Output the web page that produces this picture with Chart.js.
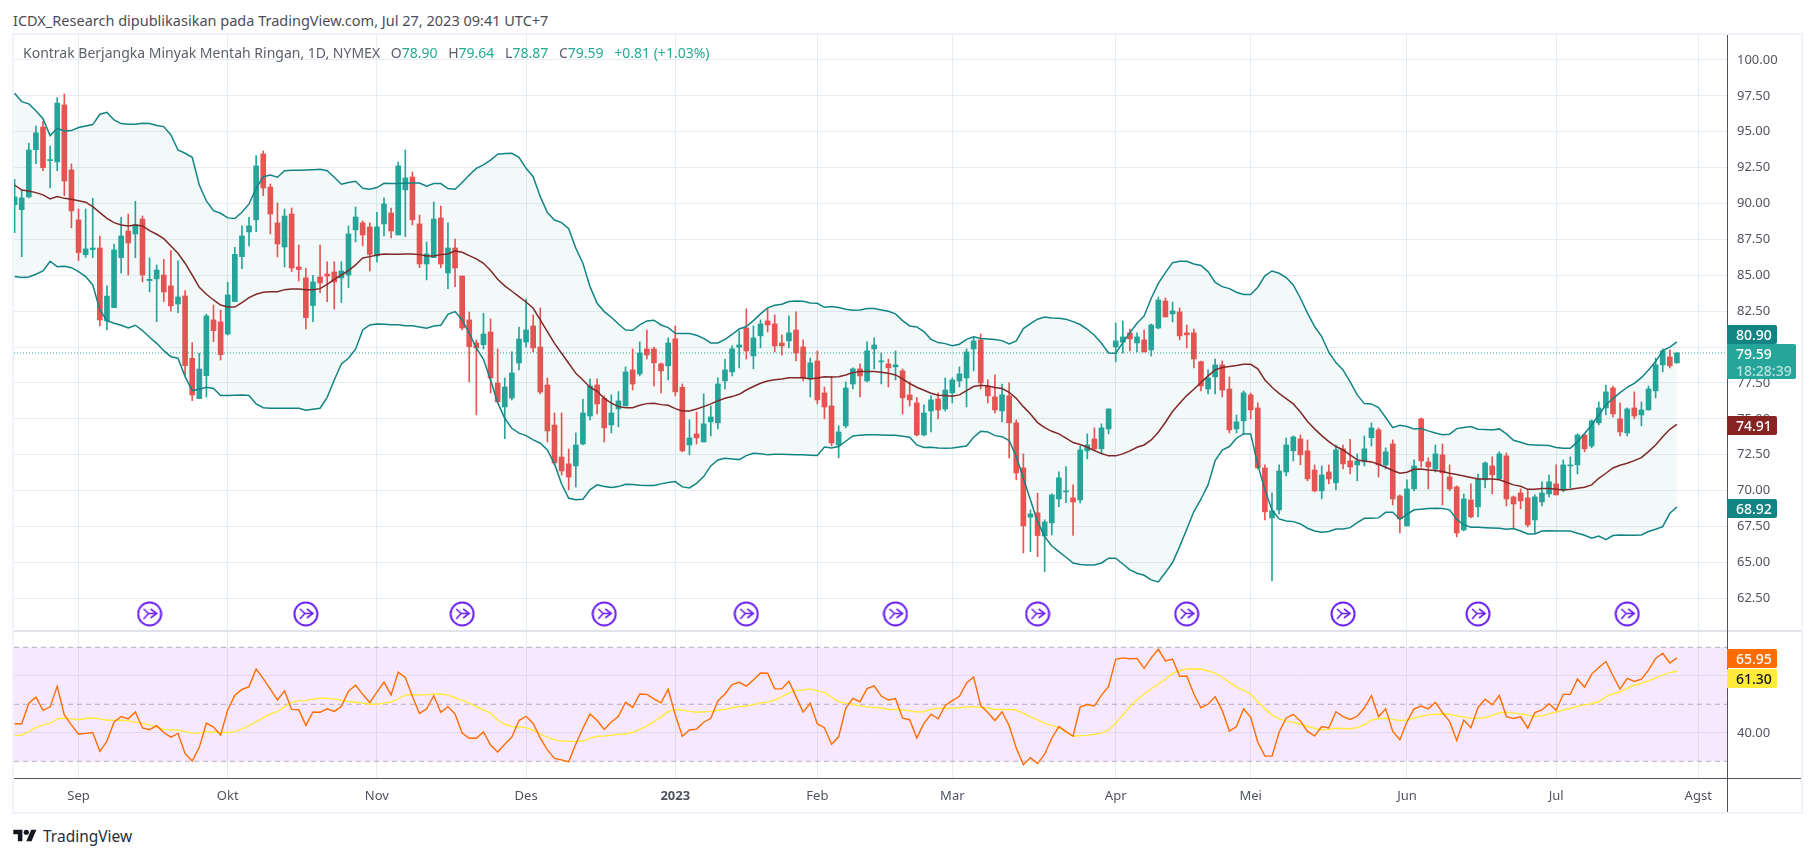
<!DOCTYPE html>
<html>
<head>
<meta charset="utf-8">
<title>Kontrak Berjangka Minyak Mentah Ringan</title>
<script src="https://cdn.jsdelivr.net/npm/chart.js@4"></script>
<style>
html,body{margin:0;padding:0;background:#fff;width:1815px;height:857px;overflow:hidden;font-family:"Noto Sans",sans-serif;}
canvas{position:absolute;left:14px;}
#mainChart{top:35px;}
#rsiChart{top:631px;}
.abs{position:absolute;white-space:nowrap;}
#pubLine{left:13px;top:11px;font-size:14.5px;line-height:18px;color:#4a4d57;}
#legend{left:23px;top:44px;font-size:14px;line-height:18px;color:#5d606b;}
#legend b{font-weight:400;color:#22ab94;}
#legend span{margin-left:10.7px;}
.frame{position:absolute;background:#f0f3fa;}
.line{position:absolute;}
.tag{position:absolute;left:1727px;width:50px;height:19px;line-height:19px;font-size:14px;color:#fff;text-align:left;padding-left:9px;box-sizing:border-box;border-radius:0 2px 2px 0;font-weight:500;}
#tvText{left:43px;top:825px;font-size:15.5px;line-height:22px;color:#2a2e39;}
</style>
</head>
<body>
<div class="abs" id="pubLine">ICDX_Research dipublikasikan pada TradingView.com, Jul 27, 2023 09:41 UTC+7</div>
<canvas id="mainChart" width="1787" height="596"></canvas>
<canvas id="rsiChart" width="1787" height="181"></canvas>
<div class="frame" style="left:12px;top:33px;width:1791px;height:2px"></div>
<div class="frame" style="left:12px;top:812px;width:1791px;height:2px"></div>
<div class="frame" style="left:12px;top:33px;width:2px;height:781px"></div>
<div class="frame" style="left:1801px;top:33px;width:2px;height:781px"></div>
<div class="line" style="left:14px;top:630px;width:1787px;height:2px;background:#e0e3eb"></div>
<div class="line" style="left:14px;top:778px;width:1787px;height:1px;background:#50535e"></div>
<div class="line" style="left:1727px;top:35px;width:1px;height:777px;background:#50535e"></div>
<div class="abs" id="legend"></div>
<div id="tags"></div>
<svg class="abs" style="left:13px;top:829px" width="24" height="13" viewBox="0 0 36 20"><path d="M14 19H7V8H0V1h14v18zM28 19h-8l7.500-18h8L28 19z" fill="#131722"/><circle cx="20" cy="5" r="4" fill="#131722"/></svg>
<div class="abs" id="tvText">TradingView</div>
<script>
const opens = [
89.92,89.57,90.46,93.75,95.33,92.99,92.9,96.87,92.34,88.86,
86.44,86.79,86.9,81.82,82.75,86.23,88.09,87.88,88.92,84.63,
84.75,85.02,84.26,83.0,83.56,79.22,76.41,78.01,81.89,81.75,
80.91,83.17,86.3,88.02,88.86,93.45,91.15,88.65,86.97,89.27,
85.58,84.82,82.89,84.89,85.09,85.23,84.82,85.02,88.16,88.65,
88.37,86.35,88.58,89.34,87.81,90.95,91.85,88.58,85.79,86.23,
88.99,85.16,86.9,84.95,81.89,80.29,80.17,81.05,77.5,75.83,
76.45,78.89,80.35,81.47,80.0,77.36,74.57,72.34,71.86,71.72,
73.25,75.2,77.36,76.43,74.58,75.69,75.9,78.41,78.13,79.87,
79.87,78.83,78.69,80.57,77.2,73.18,73.95,73.39,74.79,74.72,
77.64,78.27,80.0,81.33,79.38,80.78,81.82,81.61,80.29,80.43,
81.19,80.01,77.85,79.03,76.81,75.9,73.18,74.51,77.43,78.48,
77.64,79.87,78.97,78.83,78.62,78.34,76.67,76.11,73.88,75.55,
76.39,75.69,76.81,77.64,77.85,79.87,80.5,77.29,76.53,75.55,
76.6,74.72,71.58,68.15,68.45,66.84,67.75,69.42,69.91,69.49,
69.35,72.77,73.6,72.91,74.3,80.01,80.34,80.99,80.29,80.5,
79.8,81.33,83.21,82.31,82.45,80.99,80.99,78.98,77.08,77.92,
78.76,77.08,74.3,74.86,76.67,75.76,71.58,68.1,68.66,71.3,
72.77,73.6,72.77,71.44,69.98,71.3,70.54,72.91,72.07,71.79,
72.0,73.69,74.23,71.79,73.25,69.63,67.54,70.12,75.0,72.0,
71.51,72.49,70.95,70.26,67.26,69.35,68.87,70.75,71.72,70.82,
72.42,69.56,69.84,69.49,67.96,69.21,69.77,70.47,70.05,71.72,
71.79,73.88,73.11,74.72,75.76,77.15,75.0,74.02,75.76,75.27,
75.62,76.95,78.76,79.31,78.9];
const closes = [
90.46,90.39,93.73,94.92,92.5,93.03,97.0,91.57,89.48,86.58,
86.84,86.9,81.89,83.55,86.77,87.74,87.25,88.53,85.02,84.72,
85.37,83.84,82.87,83.49,78.71,76.66,78.47,82.17,81.14,79.47,
83.63,86.46,87.74,88.44,92.62,91.08,89.27,87.18,89.13,85.51,
85.4,82.05,84.54,84.47,84.95,84.54,85.3,87.88,89.06,87.81,
86.46,88.37,89.97,88.09,92.62,91.78,88.86,85.79,86.49,88.92,
85.79,86.9,85.51,81.33,80.03,79.94,80.91,77.85,76.18,77.22,
78.2,80.56,81.19,79.94,76.87,74.16,71.93,71.37,70.95,73.18,
75.41,77.29,76.04,74.37,75.41,76.25,78.27,77.43,79.59,79.45,
78.9,78.34,80.29,76.88,72.77,73.67,73.67,74.65,75.13,77.43,
78.41,79.87,80.15,79.73,80.64,81.61,81.54,80.08,80.08,80.99,
79.59,77.85,78.9,76.32,75.83,73.32,74.09,77.15,78.48,77.99,
79.73,80.15,79.03,78.55,78.76,76.46,76.32,73.88,75.41,76.32,
75.62,77.01,77.71,78.13,79.66,80.43,77.5,76.6,75.62,76.67,
74.72,71.23,67.54,68.38,66.87,67.82,69.7,70.89,69.98,69.21,
72.84,73.18,72.91,74.37,75.69,80.43,80.71,80.57,80.71,79.66,
81.54,83.28,82.1,82.52,80.78,80.85,79.17,77.29,77.85,78.76,
77.0,74.23,74.79,76.81,75.62,71.58,68.52,68.59,71.37,73.18,
73.74,72.49,70.82,69.98,71.09,70.82,72.84,71.86,71.65,72.07,
72.91,74.37,71.79,72.7,69.42,68.03,70.12,71.72,72.07,71.65,
72.56,71.23,70.12,67.05,69.42,68.17,70.82,71.93,71.09,72.56,
69.42,69.07,69.28,67.61,69.56,69.84,70.61,69.7,71.79,71.79,
73.88,72.91,74.86,75.76,76.88,75.34,74.09,75.69,75.2,75.62,
77.08,78.76,79.73,78.69,79.59];
const highs = [
91.69,90.95,94.2,95.4,95.73,94.0,97.38,97.63,92.76,89.62,
89.62,90.36,87.74,84.26,87.18,89.04,89.27,90.16,89.13,86.21,
85.72,86.12,86.72,86.0,83.93,80.31,79.57,82.3,82.93,82.58,
84.51,86.95,88.44,89.04,93.34,93.66,91.36,90.04,89.62,89.69,
87.11,85.49,85.0,87.11,85.93,85.95,85.95,88.44,89.76,88.79,
88.65,89.39,90.39,89.69,92.9,93.73,92.2,89.2,87.32,90.11,
89.83,88.65,87.53,84.95,82.44,80.5,82.35,81.96,79.87,77.85,
79.66,81.4,83.35,82.24,82.72,77.85,75.41,75.41,72.9,74.02,
76.38,77.78,77.78,76.6,76.67,76.9,78.62,79.87,80.36,81.19,
80.0,78.9,80.64,81.47,77.43,74.93,75.48,76.74,75.9,77.85,
79.15,80.08,81.13,82.66,81.47,81.89,82.66,82.24,80.85,82.17,
82.45,80.5,79.24,79.73,77.22,77.97,74.51,77.57,78.55,78.83,
80.36,80.64,79.59,79.17,79.73,78.48,77.57,76.5,75.97,76.6,
76.81,77.85,77.85,78.62,79.87,80.64,80.92,77.71,78.06,77.43,
77.5,74.93,72.56,68.66,69.82,67.96,69.77,71.3,71.67,70.4,
73.11,73.95,74.37,74.65,75.7,81.68,81.82,81.26,80.99,81.19,
81.61,83.49,83.42,83.14,82.73,81.54,81.26,79.03,78.41,79.17,
79.03,77.92,75.27,76.95,76.8,76.11,71.79,69.84,71.79,73.67,
73.81,73.88,73.53,71.79,71.72,71.79,73.18,73.18,73.58,72.56,
73.81,74.72,74.37,72.98,73.53,69.7,70.75,72.14,75.06,72.28,
73.18,73.25,71.79,70.33,69.77,70.47,71.16,72.0,72.35,72.7,
72.63,69.63,70.12,70.05,69.7,70.61,71.09,71.79,72.14,72.35,
73.95,73.95,74.93,76.18,77.36,77.29,76.11,75.76,76.88,76.18,
77.29,79.24,79.87,79.8,79.64];
const lows = [
87.97,86.3,90.39,92.78,92.29,91.08,92.29,90.55,88.3,86.02,
86.25,86.23,81.47,81.19,82.75,85.14,85.02,86.23,84.54,83.84,
81.77,83.17,82.5,82.4,78.06,76.27,76.41,76.52,80.38,79.1,
80.84,83.17,85.47,87.05,88.04,90.55,87.88,86.28,85.58,85.26,
84.61,81.26,81.77,83.79,83.17,82.65,83.1,84.14,87.32,87.05,
85.3,85.93,87.74,87.6,87.81,87.69,88.5,85.53,84.68,86.23,
85.53,84.07,84.21,81.19,77.57,75.27,79.87,76.8,76.18,73.62,
76.31,78.4,80.0,79.66,76.73,73.39,71.79,71.09,70.05,70.25,
73.18,74.92,75.34,73.39,74.02,74.44,75.9,77.0,77.99,79.17,
77.29,76.81,77.71,76.6,72.7,72.49,73.25,73.39,73.81,74.3,
77.08,77.99,78.55,79.17,78.48,79.94,81.05,79.66,79.45,79.94,
79.03,77.64,76.53,76.04,75.0,73.11,72.28,74.37,77.08,76.53,
77.57,78.48,77.43,77.22,77.71,75.34,75.9,73.81,73.81,74.09,
75.0,75.55,76.11,77.22,75.83,78.34,77.08,76.11,75.41,74.79,
72.28,70.75,65.66,65.75,65.4,64.36,66.91,68.89,69.16,66.87,
69.14,72.21,72.84,72.56,73.95,78.97,79.59,79.73,79.66,79.66,
79.38,81.26,82.1,81.75,80.5,79.94,78.55,76.95,76.74,76.74,
76.53,74.02,74.02,73.95,75.0,71.51,67.96,63.71,68.38,71.03,
72.07,71.79,70.68,69.91,69.42,70.47,70.05,71.51,71.16,70.68,
71.72,73.11,70.95,71.51,69.0,67.05,67.54,69.98,71.65,70.12,
71.3,69.0,69.98,66.78,67.19,68.1,68.17,70.19,69.77,70.75,
68.93,67.33,68.73,67.47,67.05,68.93,69.56,69.7,69.91,70.19,
71.16,72.7,72.98,74.58,75.27,75.13,73.81,73.81,75.0,74.51,
75.6,76.46,78.27,78.55,78.87];

// bollinger bands
const upperBand = [
97.68,97.1,96.94,96.47,95.91,94.73,95.24,95.05,95.08,95.29,
95.4,95.5,96.22,96.35,95.82,95.57,95.52,95.52,95.59,95.57,
95.43,95.36,94.78,93.73,93.5,93.22,91.29,90.18,89.5,89.32,
89.0,88.95,89.39,89.97,91.06,91.87,91.99,91.83,92.29,92.31,
92.31,92.34,92.36,92.38,92.29,91.83,91.34,91.46,91.55,91.06,
90.99,91.11,91.41,91.39,91.39,91.41,91.43,91.43,91.2,91.39,
91.39,91.04,90.99,91.46,91.99,92.45,92.69,93.03,93.43,93.48,
93.5,93.22,92.45,91.87,90.48,89.37,88.85,88.67,88.25,86.88,
85.84,84.21,83.05,82.47,82.08,81.61,81.19,81.17,81.54,81.82,
81.87,81.54,81.36,80.96,80.94,80.94,80.82,80.61,80.29,80.29,
80.54,80.89,81.26,81.43,81.84,82.31,82.73,82.91,82.98,83.17,
83.21,83.19,83.07,83.05,82.77,82.82,82.75,82.63,82.56,82.59,
82.68,82.68,82.59,82.49,82.31,81.84,81.47,81.4,81.08,80.54,
80.31,80.24,80.1,80.2,80.54,80.71,80.59,80.57,80.52,80.45,
80.22,80.43,81.29,81.64,81.94,82.1,82.03,82.01,81.94,81.77,
81.57,81.24,80.82,80.27,79.59,79.57,80.31,81.01,81.66,82.17,
83.4,84.44,85.19,85.88,85.98,85.98,85.79,85.68,85.26,84.51,
84.21,84.07,83.82,83.66,83.66,84.17,84.96,85.3,85.14,84.84,
84.33,83.4,82.36,81.43,80.73,79.64,78.92,78.41,77.57,76.67,
76.06,76.04,75.78,75.09,74.39,74.55,74.46,74.3,74.32,74.16,
74.02,73.9,73.93,74.32,74.39,74.46,74.27,74.25,74.23,74.3,
73.95,73.51,73.37,73.21,73.18,73.16,73.14,73.0,72.95,72.95,
73.41,73.98,74.58,75.27,75.97,76.43,76.83,77.2,77.47,77.87,
78.41,78.99,79.75,79.99,80.36];
const basisLine = [
91.29,90.94,90.87,90.76,90.6,90.32,90.48,90.36,90.29,90.2,
90.09,89.78,89.37,88.97,88.67,88.51,88.44,88.51,88.44,88.11,
87.86,87.55,87.04,86.53,85.84,85.02,84.16,83.68,83.28,82.93,
82.79,82.79,83.1,83.45,83.68,83.82,83.86,83.86,84.0,84.05,
84.05,84.0,84.0,84.07,84.37,84.72,85.02,85.33,85.72,86.21,
86.3,86.42,86.49,86.46,86.46,86.49,86.49,86.44,86.35,86.35,
86.44,86.49,86.7,86.6,86.37,86.14,85.84,85.33,84.72,84.26,
83.89,83.51,83.14,82.7,81.89,81.08,80.26,79.57,78.87,78.17,
77.71,77.2,76.92,76.43,76.09,75.85,75.78,75.78,75.95,76.06,
76.09,75.99,75.95,75.71,75.55,75.55,75.69,75.85,76.04,76.25,
76.43,76.55,76.71,77.01,77.25,77.48,77.64,77.73,77.78,77.87,
77.87,77.87,77.78,77.85,77.94,77.92,77.94,78.06,78.22,78.29,
78.29,78.29,78.25,78.18,78.06,77.78,77.46,77.2,76.99,76.78,
76.64,76.62,76.57,76.67,76.97,77.25,77.34,77.29,77.18,77.11,
76.85,76.43,75.85,75.34,74.74,74.39,74.13,73.95,73.65,73.35,
73.21,73.02,72.79,72.58,72.42,72.42,72.56,72.77,73.02,73.18,
73.53,74.07,74.76,75.51,76.09,76.62,77.06,77.53,77.99,78.41,
78.57,78.64,78.71,78.8,78.8,78.48,77.71,77.2,76.78,76.41,
76.04,75.48,74.81,74.3,73.83,73.41,73.07,72.83,72.49,72.14,
72.07,72.0,71.84,71.63,71.4,71.21,71.28,71.49,71.51,71.44,
71.4,71.33,71.21,71.12,71.02,70.91,70.81,70.81,70.81,70.75,
70.58,70.4,70.3,70.09,70.09,70.14,70.14,70.09,70.05,70.09,
70.16,70.23,70.4,70.86,71.21,71.58,71.77,71.91,72.09,72.3,
72.72,73.18,73.76,74.27,74.62];
const lowerBand = [
84.91,84.84,84.88,85.07,85.3,85.98,85.6,85.63,85.53,85.26,
84.91,84.33,82.59,81.84,81.66,81.52,81.33,81.52,81.15,80.68,
80.26,79.75,79.33,79.22,77.94,76.97,77.06,77.2,77.11,76.62,
76.62,76.64,76.66,76.62,76.04,75.78,75.74,75.74,75.74,75.74,
75.74,75.6,75.67,75.74,76.5,77.71,78.82,79.22,79.85,81.19,
81.54,81.61,81.59,81.56,81.56,81.49,81.49,81.4,81.31,81.47,
81.52,82.28,82.47,81.89,80.96,79.92,79.15,77.71,76.13,75.04,
74.34,74.0,73.83,73.53,73.3,72.83,71.86,70.46,69.47,69.37,
69.4,70.05,70.4,70.28,70.21,70.28,70.44,70.42,70.37,70.35,
70.35,70.47,70.56,70.63,70.26,70.19,70.51,70.98,71.72,72.14,
72.25,72.21,72.16,72.44,72.6,72.56,72.49,72.53,72.53,72.51,
72.49,72.49,72.46,72.44,73.04,72.97,73.07,73.44,73.81,73.86,
73.9,73.9,73.88,73.86,73.86,73.79,73.72,73.18,73.0,73.02,
72.97,72.95,72.97,73.04,73.11,73.72,74.13,74.09,73.83,73.76,
73.49,72.37,70.86,69.35,67.84,66.79,66.14,65.75,65.36,64.96,
64.85,64.82,64.82,64.96,65.29,65.29,64.89,64.48,64.24,64.1,
63.78,63.64,64.29,64.99,66.1,67.31,68.54,69.4,70.4,72.09,
72.83,73.07,73.65,73.95,73.95,71.79,70.05,68.65,68.03,67.89,
67.84,67.68,67.38,67.19,67.1,67.15,67.33,67.33,67.42,67.77,
68.07,68.07,68.1,68.49,68.49,68.0,68.35,68.66,68.7,68.75,
68.77,68.75,68.66,68.0,67.61,67.45,67.45,67.42,67.4,67.38,
67.31,67.36,67.19,66.98,66.98,67.19,67.21,67.19,67.19,67.19,
67.03,66.89,66.68,66.84,66.59,66.87,66.91,66.89,66.89,66.91,
67.15,67.31,67.49,68.42,68.86];

// RSI pane
const rsiValues = [
43.2,43.2,50.4,52.5,47.9,49.1,56.3,46.3,42.8,39.5,
39.8,40.1,33.5,37.1,43.8,45.7,44.9,47.3,41.7,41.1,
42.5,40.1,38.5,39.8,32.7,30.1,34.9,43.4,42.0,39.2,
48.0,53.2,55.2,56.2,62.4,59.0,55.3,51.5,54.7,48.2,
48.1,42.6,47.3,47.2,48.4,47.5,49.2,54.6,56.7,53.5,
50.6,54.3,57.8,53.3,61.3,59.4,52.7,46.8,48.4,53.0,
47.2,49.2,46.6,39.9,38.1,38.1,40.3,35.7,33.3,36.0,
38.5,44.3,45.8,43.3,38.1,34.0,31.0,30.5,29.8,36.1,
41.6,46.6,44.3,41.2,43.8,45.8,50.7,48.9,53.6,53.5,
51.9,50.5,55.3,46.3,38.8,41.0,41.3,43.7,45.1,51.2,
53.6,56.9,57.7,56.4,58.5,61.0,60.9,55.4,55.4,58.1,
52.7,47.2,50.4,43.1,41.8,36.0,38.6,48.6,52.1,50.9,
55.5,56.5,52.9,51.5,52.0,45.1,44.6,38.2,43.3,46.5,
44.9,49.6,51.3,52.8,57.5,59.6,49.5,47.1,44.3,47.4,
42.5,34.7,28.8,31.3,29.2,32.5,38.1,42.2,40.4,38.8,
49.1,49.9,49.4,53.2,56.3,65.8,66.3,66.0,66.1,62.6,
66.3,69.3,65.2,65.9,59.8,59.9,53.6,48.8,50.0,52.7,
47.8,40.6,42.2,48.4,45.4,36.7,31.8,31.8,40.2,45.2,
46.5,44.1,40.5,38.9,42.2,41.7,47.4,45.7,44.7,45.8,
48.7,53.0,45.7,48.4,40.5,37.6,43.9,48.4,49.4,48.4,
50.7,47.1,44.0,37.3,44.5,41.8,48.9,51.8,49.8,53.1,
45.7,45.0,45.6,41.6,47.1,48.0,50.2,47.9,53.5,53.5,
58.9,56.0,60.6,62.9,65.0,60.0,55.3,59.1,58.0,58.8,
62.0,66.1,67.9,64.5,66.3];
const rsiAverage = [
39.1,39.1,40.4,41.8,42.8,43.3,44.9,45.1,44.9,44.6,
45.0,45.2,44.9,44.4,44.4,44.4,44.2,43.7,43.3,42.8,
42.1,41.2,41.0,41.0,40.4,39.9,39.9,40.4,40.3,40.1,
40.1,40.4,41.3,42.5,43.8,45.2,46.6,47.4,49.1,50.7,
51.2,51.3,51.8,52.1,52.1,51.8,51.4,51.0,50.7,50.4,
50.0,50.0,50.4,50.8,51.9,53.2,53.4,53.3,53.3,53.6,
53.6,53.2,52.3,51.4,50.4,49.2,48.0,46.9,44.4,43.0,
42.2,42.1,41.8,40.9,39.5,38.5,37.6,37.1,37.0,37.0,
37.1,38.1,38.8,38.9,39.2,39.5,39.6,40.2,41.2,42.4,
43.9,45.5,47.5,48.2,48.0,47.5,47.2,47.4,47.5,47.9,
48.2,48.8,49.2,49.4,49.9,50.5,50.7,51.5,52.7,54.0,
54.9,55.0,55.4,54.7,54.1,52.6,50.9,50.4,50.0,49.4,
49.1,48.9,48.7,48.2,48.2,48.0,47.7,47.3,47.4,48.2,
48.6,48.6,48.7,48.8,49.1,49.2,48.9,48.7,48.2,48.2,
48.2,48.0,46.8,45.6,44.5,43.3,42.6,41.8,40.3,38.9,
39.0,39.1,39.5,39.9,41.0,43.3,46.3,49.2,51.5,53.6,
55.4,57.1,58.8,60.9,61.7,62.4,62.5,62.4,61.7,60.9,
59.4,57.7,56.0,55.0,53.6,50.9,48.4,46.3,44.9,44.2,
43.7,43.0,42.2,41.6,41.0,41.2,41.6,41.5,41.4,41.8,
42.8,44.5,45.0,45.1,44.7,44.3,44.5,45.2,45.8,46.3,
46.5,46.6,46.5,45.9,45.6,45.1,45.1,45.3,46.0,47.1,
47.2,47.0,46.6,46.2,45.8,45.9,46.7,47.2,48.0,48.6,
49.3,49.8,50.2,50.9,52.7,53.7,54.4,55.6,56.7,57.4,
58.2,59.2,60.3,61.1,61.6];

// axes
const monthIndex = [9,30,51,72,93,113,132,155,174,196,217,237];
const monthLabels = ['Sep','Okt','Nov','Des','2023','Feb','Mar','Apr','Mei','Jun','Jul','Agst'];
const priceTicks = [62.5,65,67.5,70,72.5,75,77.5,80,82.5,85,87.5,90,92.5,95,97.5,100];
const rsiTicks = [40,60];
const rsiBands = [70,50,30];
const lastPrice = 79.59;
const rolloverIndex = [19,41,63,83,103,124,144,165,187,206,227];
const rolloverLevel = 61.41;
const xStart = -0.084, xEnd = 241.05;

const legendParts = [['O','78.90'],['H','79.64'],['L','78.87'],['C','79.59']];
const legendChange = '+0.81 (+1.03%)';
const tagList = [
  {text:'80.90', top:325, bg:'#138484', fg:'#fff'},
  {text:'74.91', top:416, bg:'#872323', fg:'#fff'},
  {text:'68.92', top:499, bg:'#138484', fg:'#fff'},
  {text:'65.95', top:649, bg:'#ff6d00', fg:'#fff'},
  {text:'61.30', top:669, bg:'#ffeb3b', fg:'#131722'}
];

// header + price tags
const legendEl = document.getElementById('legend');
legendEl.innerHTML = 'Kontrak Berjangka Minyak Mentah Ringan, 1D, NYMEX' +
  legendParts.map(p=>`<span>${p[0]}<b>${p[1]}</b></span>`).join('') + `<span><b>${legendChange}</b></span>`;
const tagsEl = document.getElementById('tags');
tagList.forEach(t=>{
  const d = document.createElement('div');
  d.className = 'tag';
  d.style.top = t.top+'px'; d.style.background = t.bg; d.style.color = t.fg;
  d.textContent = t.text;
  tagsEl.appendChild(d);
});
const box = document.createElement('div');
box.className = 'tag';
box.style.cssText = 'top:344px;width:69px;height:35px;background:#26a69a;line-height:17px;padding-top:1px;';
box.innerHTML = '79.59<br><span style="color:#b9e3de">18:28:39</span>';
tagsEl.appendChild(box);

// rollover marker
function makeMarker(){
  const c = document.createElement('canvas');
  c.width = 26; c.height = 26;
  c.style.display = 'none';
  const g = c.getContext('2d');
  g.strokeStyle = '#6a1ff5'; g.lineWidth = 2;
  g.beginPath(); g.arc(13,13,11.5,0,Math.PI*2); g.stroke();
  g.lineWidth = 1.6;
  g.beginPath(); g.moveTo(14,8); g.lineTo(20,12.5); g.lineTo(14,17); g.stroke();
  g.beginPath(); g.moveTo(7,8); g.lineTo(12,12.5); g.lineTo(20,12.5); g.stroke();
  g.beginPath(); g.moveTo(7,18); g.lineTo(12,12.5); g.stroke();
  return c;
}

const candleColor = ctx => {
  const i = ctx.dataIndex;
  return closes[i] >= opens[i] ? '#26a69a' : '#ef5350';
};
const toPoints = arr => arr.map((v,i)=>({x:i,y:v}));
const flatLine = v => [{x:xStart,y:v},{x:xEnd,y:v}];
const gridColor = '#e5edf3';
const tickFont = {family:'"Noto Sans"',size:13};

function xAxis(showLabels){
  return {
    type:'linear', min:xStart, max:xEnd, offset:false,
    afterBuildTicks: s => { s.ticks = monthIndex.map(v=>({value:v})); },
    afterFit: s => { s.height = showLabels ? 34 : 0; s.paddingLeft = 0; s.paddingRight = 0; },
    grid:{color:gridColor, drawTicks:false, offset:false},
    border:{display:false},
    ticks:{
      display:showLabels, autoSkip:false, maxRotation:0, padding:10, color:'#50535e',
      callback:(v,i)=>monthLabels[i],
      font:ctx=>({family:'"Noto Sans"',size:13,weight:monthLabels[ctx.index]==='2023'?'700':'400'})
    }
  };
}
function yAxis(min,max,values){
  return {
    position:'right', min, max,
    afterBuildTicks: s => { s.ticks = values.map(v=>({value:v})); },
    // chart.js reserves label padding above and below the plot, the panes here run edge to edge
    afterFit: s => { s.width = 74; s.paddingTop = 0; s.paddingBottom = 0; },
    grid:{color:gridColor, drawTicks:false},
    border:{display:false},
    ticks:{padding:10, color:'#50535e', font:tickFont, callback:v=>v.toFixed(2)}
  };
}

new Chart(document.getElementById('mainChart'),{
  type:'bar',
  data:{datasets:[
    {type:'line', label:'Upper', data:toPoints(upperBand), borderColor:'#138484', borderWidth:1.5, pointRadius:0, order:0,
      fill:{target:1}, backgroundColor:'rgba(19,132,132,0.05)'},
    {type:'line', label:'Lower', data:toPoints(lowerBand), borderColor:'#138484', borderWidth:1.5, pointRadius:0, order:0},
    {type:'line', label:'Basis', data:toPoints(basisLine), borderColor:'#872323', borderWidth:1.5, pointRadius:0, order:0},
    {type:'line', label:'Last', data:flatLine(lastPrice), borderColor:'#26a69a', borderWidth:1, borderDash:[1,2], pointRadius:0, order:3},
    {label:'Wick', data:lows.map((v,i)=>({x:i,y:[v,highs[i]]})), backgroundColor:candleColor, barThickness:1, grouped:false, order:2},
    {label:'Body', data:opens.map((v,i)=>({x:i,y:[v,closes[i]]})), backgroundColor:candleColor, barThickness:5, minBarLength:1, grouped:false, order:1},
    {type:'scatter', label:'Rollover', data:rolloverIndex.map(v=>({x:v,y:rolloverLevel})), pointStyle:makeMarker(), pointRadius:13, order:0}
  ]},
  options:{
    responsive:false, animation:false, devicePixelRatio:1,
    layout:{padding:0, autoPadding:false},
    plugins:{legend:{display:false},tooltip:{enabled:false}},
    scales:{x:xAxis(false), y:yAxis(60.22,101.74,priceTicks)}
  }
});

new Chart(document.getElementById('rsiChart'),{
  type:'line',
  data:{datasets:[
    {label:'Upper band', data:flatLine(rsiBands[0]), borderColor:'rgba(120,123,134,0.55)', borderWidth:1, borderDash:[5,4], pointRadius:0,
      fill:{target:2}, backgroundColor:'rgba(195,90,250,0.14)', order:2},
    {label:'Middle band', data:flatLine(rsiBands[1]), borderColor:'rgba(120,123,134,0.55)', borderWidth:1, borderDash:[5,4], pointRadius:0, order:2},
    {label:'Lower band', data:flatLine(rsiBands[2]), borderColor:'rgba(120,123,134,0.55)', borderWidth:1, borderDash:[5,4], pointRadius:0, order:2},
    {label:'RSI MA', data:toPoints(rsiAverage), borderColor:'#ffeb3b', borderWidth:1.4, pointRadius:0, order:1},
    {label:'RSI', data:toPoints(rsiValues), borderColor:'#ff6d00', borderWidth:1.4, pointRadius:0, order:0}
  ]},
  options:{
    responsive:false, animation:false, devicePixelRatio:1,
    layout:{padding:0, autoPadding:false},
    plugins:{legend:{display:false},tooltip:{enabled:false}},
    scales:{x:xAxis(true), y:yAxis(24.14,75.72,rsiTicks)}
  }
});
</script>
</body>
</html>
